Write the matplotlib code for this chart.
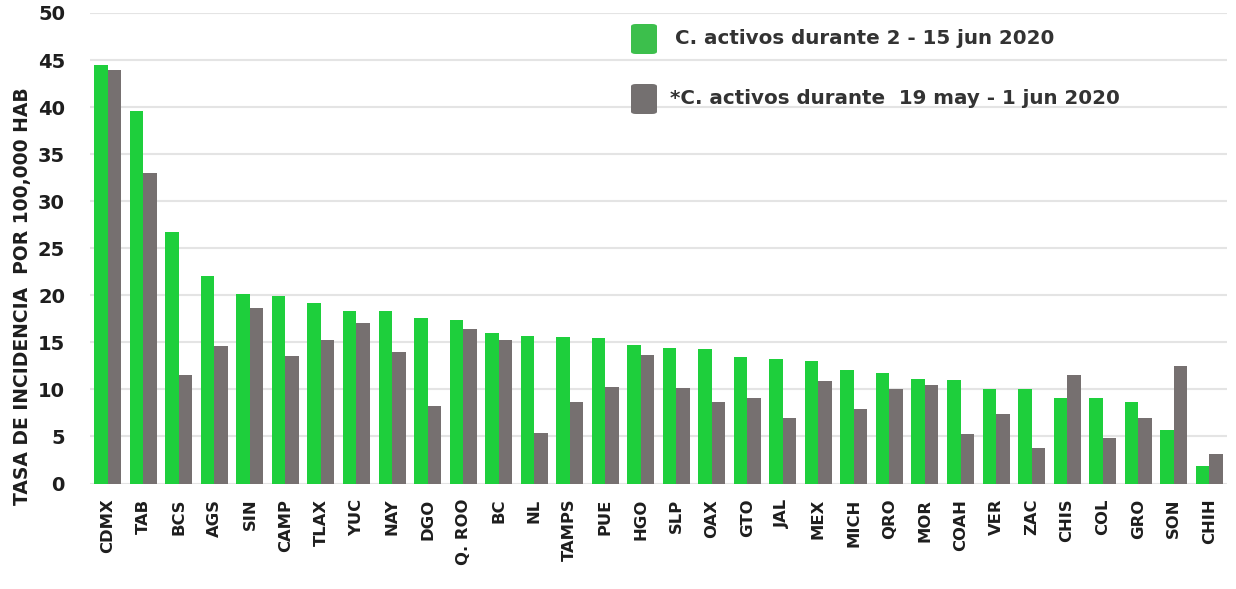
import matplotlib
matplotlib.use("Agg")
import matplotlib.pyplot as plt
import numpy as np
from matplotlib.patches import FancyBboxPatch

categories = ["CDMX", "TAB", "BCS", "AGS", "SIN", "CAMP", "TLAX", "YUC", "NAY", "DGO",
              "Q. ROO", "BC", "NL", "TAMPS", "PUE", "HGO", "SLP", "OAX", "GTO", "JAL",
              "MEX", "MICH", "QRO", "MOR", "COAH", "VER", "ZAC", "CHIS", "COL", "GRO",
              "SON", "CHIH"]
current = [44.5, 39.6, 26.7, 22.1, 20.1, 19.9, 19.2, 18.3, 18.3, 17.6,
           17.4, 16.0, 15.7, 15.6, 15.5, 14.7, 14.4, 14.3, 13.4, 13.2,
           13.0, 12.1, 11.7, 11.1, 11.0, 10.0, 10.0, 9.1, 9.1, 8.7,
           5.7, 1.9]
previous = [43.9, 33.0, 11.5, 14.6, 18.7, 13.5, 15.2, 17.1, 14.0, 8.2,
            16.4, 15.2, 5.4, 8.7, 10.3, 13.7, 10.1, 8.7, 9.1, 7.0,
            10.9, 7.9, 10.0, 10.5, 5.3, 7.4, 3.8, 11.5, 4.8, 7.0,
            12.5, 3.1]
yticks = [0, 5, 10, 15, 20, 25, 30, 35, 40, 45, 50]
legend_labels = ["C. activos durante 2 - 15 jun 2020",
                 "*C. activos durante  19 may - 1 jun 2020"]
ylabel = "TASA DE INCIDENCIA  POR 100,000 HAB"

GREEN = "#1ecf3c"
GRAY = "#767070"
LEG_GREEN = "#3cbf4c"
LEG_GRAY = "#747070"
TXT = "#1e1e1e"

W, H = 1236, 589
fig = plt.figure(figsize=(W / 100, H / 100), dpi=100)
fig.patch.set_facecolor("white")
ax = fig.add_axes([90 / W, 1 - 483.5 / H, (1227 - 90) / W, (483.5 - 13) / H])

x = np.arange(len(categories))
bw = 0.38
ax.bar(x - bw / 2, current, width=bw, color=GREEN, zorder=3)
ax.bar(x + bw / 2, previous, width=bw, color=GRAY, zorder=3)

ax.set_xlim(-0.5, len(categories) - 0.5)
ax.set_ylim(0, 50)
ax.set_yticks(yticks)
ax.set_yticklabels([str(v) for v in yticks], fontsize=14, fontweight="bold", color=TXT)
ax.set_xticks(x)
ax.set_xticklabels(categories, rotation=90, fontsize=11.8, fontweight="bold", color=TXT,
                   va="top", ha="center")
ax.tick_params(axis="both", length=0)
ax.tick_params(axis="x", pad=11)
ax.tick_params(axis="y", pad=18)
ax.grid(axis="y", color="#e4e4e4", linewidth=1.5, zorder=0)
for s in ax.spines.values():
    s.set_visible(False)

fig.text(23 / W, 1 - 296 / H, ylabel, rotation=90, ha="center", va="center",
         fontsize=13.5, fontweight="bold", color=TXT)

# legend
for (y0, col, lab, tx) in [(23, LEG_GREEN, legend_labels[0], 675), (83, LEG_GRAY, legend_labels[1], 670)]:
    p = FancyBboxPatch((631 / W, 1 - (y0 + 31) / H), 26 / W, 30 / H,
                       boxstyle="round,pad=0,rounding_size=0.004",
                       transform=fig.transFigure, facecolor=col, edgecolor="none")
    fig.patches.append(p)
    fig.text(tx / W, 1 - (y0 + 16) / H, lab, ha="left", va="center",
             fontsize=14.3, fontweight="bold", color="#333333")

fig.savefig("out.png", dpi=100)
